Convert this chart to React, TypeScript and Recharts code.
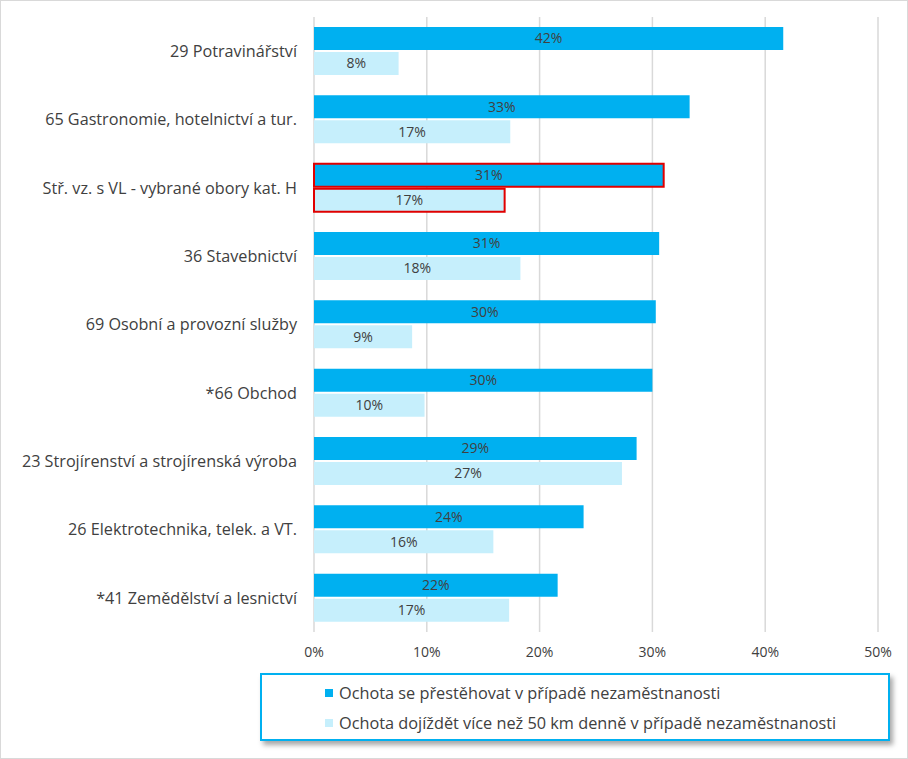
import React from 'react';
import { BarChart, Bar, XAxis, YAxis, CartesianGrid, LabelList, Cell, Legend } from 'recharts';

const categories = [
  '29 Potravinářství',
  '65 Gastronomie, hotelnictví a tur.',
  'Stř. vz. s VL - vybrané obory kat. H',
  '36 Stavebnictví',
  '69 Osobní a provozní služby',
  '*66 Obchod',
  '23 Strojírenství a strojírenská výroba',
  '26 Elektrotechnika, telek. a VT.',
  '*41 Zemědělství a lesnictví',
];
const relocate = [41.6, 33.3, 31.0, 30.6, 30.3, 30.0, 28.6, 23.9, 21.6];
const commute = [7.5, 17.4, 16.9, 18.3, 8.7, 9.8, 27.3, 15.9, 17.3];
const seriesNames = [
  'Ochota se přestěhovat v případě nezaměstnanosti',
  'Ochota dojíždět více než 50 km denně v případě nezaměstnanosti',
];
const xTicks = [0, 10, 20, 30, 40, 50];
const highlightIndex = 2;

const DARK = '#00B0F0';
const LIGHT = '#C6EFFC';
const TEXT = '#404040';
const FONT = '"Open Sans", "Liberation Sans", sans-serif';

const data = categories.map((c, i) => ({ name: c, relocate: relocate[i], commute: commute[i] }));

const fmt = (v: any) => `${Math.round(Number(v))}%`;

const LegendBox = () => (
  <div
    style={{
      width: 626,
      height: 64,
      border: `2px solid ${DARK}`,
      background: '#fff',
      boxShadow: '3px 4px 5px rgba(0,0,0,0.35)',
      fontFamily: FONT,
      fontSize: 16.3,
      color: TEXT,
      boxSizing: 'content-box',
      position: 'relative',
    }}
  >
    {seriesNames.map((n, i) => (
      <div
        key={n}
        style={{ position: 'absolute', left: 63, top: 7 + i * 30, height: 22, display: 'flex', alignItems: 'center', whiteSpace: 'nowrap' }}
      >
        <span style={{ display: 'inline-block', width: 8, height: 8, background: i === 0 ? DARK : LIGHT, marginRight: 6 }} />
        <span>{n}</span>
      </div>
    ))}
  </div>
);

export default function App() {
  return (
    <div style={{ position: 'absolute', left: 0, top: 0, width: 908, height: 759, background: '#fff' }}>
      <div style={{ position: 'absolute', left: 0, top: 0, width: 906, height: 757, border: '1px solid #D9D9D9' }} />
      <BarChart
        width={908}
        height={759}
        data={data}
        layout="vertical"
        margin={{ top: 17, right: 30, left: 0, bottom: 97 }}
        barSize={23}
        barGap={2}
      >
        <CartesianGrid horizontal={false} stroke="#D9D9D9" strokeWidth={1.5} />
        <XAxis
          type="number"
          domain={[0, 50]}
          ticks={xTicks}
          tickFormatter={(v: number) => `${v}%`}
          axisLine={false}
          tickLine={false}
          height={30}
          tickMargin={9}
          tick={{ fill: TEXT, fontSize: 14, fontFamily: FONT }}
          interval={0}
        />
        <YAxis
          type="category"
          dataKey="name"
          width={314}
          axisLine={false}
          tickLine={false}
          tickMargin={11}
          tick={{ fill: TEXT, fontSize: 16.2, fontFamily: FONT }}
          interval={0}
        />
        <Legend
          layout="horizontal"
          verticalAlign="middle"
          align="center"
          wrapperStyle={{ left: 260, top: 673, width: 630, height: 68 }}
          content={() => <LegendBox />}
        />
        <Bar dataKey="relocate" name={seriesNames[0]} fill={DARK} isAnimationActive={false}>
          {data.map((_, i) => (
            <Cell key={i} fill={DARK} stroke={i === highlightIndex ? '#E00000' : 'none'} strokeWidth={i === highlightIndex ? 2 : 0} />
          ))}
          <LabelList dataKey="relocate" position="center" formatter={fmt} fill={TEXT} fontSize={14} fontFamily={FONT} />
        </Bar>
        <Bar dataKey="commute" name={seriesNames[1]} fill={LIGHT} isAnimationActive={false}>
          {data.map((_, i) => (
            <Cell key={i} fill={LIGHT} stroke={i === highlightIndex ? '#E00000' : 'none'} strokeWidth={i === highlightIndex ? 2 : 0} />
          ))}
          <LabelList dataKey="commute" position="center" formatter={fmt} fill={TEXT} fontSize={14} fontFamily={FONT} />
        </Bar>
      </BarChart>
    </div>
  );
}
